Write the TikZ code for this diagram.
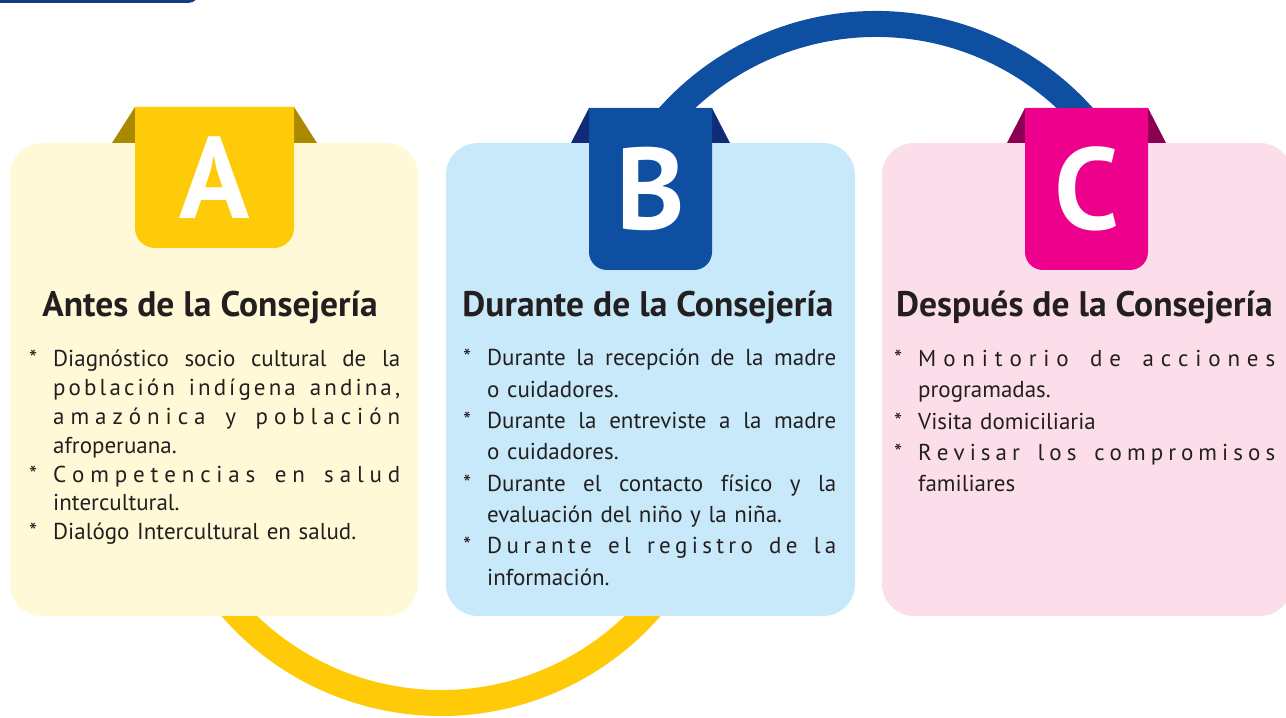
\documentclass[tikz,border=0pt]{standalone}
\usepackage{fontspec}
\setmainfont{PT Sans}
\usepackage{xcolor}

\definecolor{ink}{HTML}{231F20}
\definecolor{navy}{HTML}{163A86}
\definecolor{yellow_a}{HTML}{FFCB08}
\definecolor{yellow_fold}{HTML}{A98900}
\definecolor{cream_a}{HTML}{FFF9D7}
\definecolor{blue_b}{HTML}{0E4FA2}
\definecolor{blue_fold}{HTML}{102C78}
\definecolor{sky_b}{HTML}{C7E9F9}
\definecolor{pink_c}{HTML}{EC008C}
\definecolor{pink_fold}{HTML}{8B0050}
\definecolor{rose_c}{HTML}{FCDEEA}

\tikzstyle{card} =
  [ rectangle
  , rounded corners=32
  , minimum height=473
  , inner sep=0pt
  ]
\tikzstyle{ring} =
  [ line width=26
  ]
\tikzstyle{letter} =
  [ anchor=base
  , inner sep=0pt
  , text=white
  , font=\fontsize{116}{116}\selectfont\bfseries
  ]
\tikzstyle{heading} =
  [ anchor=base
  , inner sep=0pt
  , text=ink
  , font=\fontsize{35.5}{35.5}\selectfont\bfseries
  ]
\tikzstyle{list_text} =
  [ anchor=base west
  , inner sep=0pt
  , text=ink
  ]

% lines of the lists
\makeatletter
\def\fullline#1{\leavevmode\hbox to \linewidth{\spaceskip=.2em plus 1fil\relax #1}}
\def\spreadline#1{\leavevmode\hbox to \linewidth{\spread@#1\spread@end\unskip}}
\def\spread@end{\spread@end}
\def\spread@{\futurelet\spread@next\spread@check}
\def\spread@check{%
  \ifx\spread@next\spread@end
    \let\spread@do\@gobble
  \else\ifx\spread@next\@sptoken
    \let\spread@do\spread@space
  \else
    \let\spread@do\spread@char
  \fi\fi
  \spread@do}
\def\spread@char#1{#1\hfil\spread@}
\def\@tempa#1{\def\spread@space#1{\ \hfil\spread@}}
\@tempa{ }
\makeatother
\def\itemstar{\leavevmode\llap{*\hskip 16pt}}

\begin{document}
\begin{tikzpicture}[x=1pt,y=1pt]
    \useasboundingbox (0,0) rectangle (1286,718);
    \fill[navy, rounded corners=12] (-20,715) rectangle (200,760);

    % rings behind the cards
    \coordinate (ring_ab) at (441,293);
    \coordinate (ring_bc) at (876,416);
    \draw[ring, yellow_a] (ring_ab) ++(210:278) arc (210:330:278);
    \draw[ring, blue_b]   (ring_bc) ++(150:278) arc (150:30:278);

    % cards
    \node[card, fill=cream_a, minimum width=408] (card_a) at (214,338.5) {};
    \node[card, fill=sky_b,   minimum width=409] (card_b) at (650.5,338.5) {};
    \node[card, fill=rose_c,  minimum width=410] (card_c) at (1087,338.5) {};

    % tabs
    \fill[yellow_fold] (112,575) -- (135,611) -- (135,575) -- cycle;
    \fill[yellow_fold] (294,611) -- (317,575) -- (294,575) -- cycle;
    \fill[yellow_a] (135,611) [rounded corners=20] -- (135,470) -- (294,470) [sharp corners] -- (294,611) -- cycle;
    \node[letter] (letter_a) at (214.5,499) {A};

    \fill[blue_fold] (571,575) -- (589,610) -- (589,575) -- cycle;
    \fill[blue_fold] (712,610) -- (730,575) -- (712,575) -- cycle;
    \fill[blue_b] (589,610) [rounded corners=18] -- (589,448) -- (712,448) [sharp corners] -- (712,610) -- cycle;
    \node[letter] (letter_b) at (650.5,488) {B};

    \fill[pink_fold] (1007,575) -- (1025,610) -- (1025,575) -- cycle;
    \fill[pink_fold] (1148,610) -- (1166,575) -- (1148,575) -- cycle;
    \fill[pink_c] (1025,610) [rounded corners=18] -- (1025,448) -- (1148,448) [sharp corners] -- (1148,610) -- cycle;
    \node[letter] (letter_c) at (1086.5,488) {C};

    % headings
    \node[heading] (head_a) at (210,401)  {Antes de la Consejería};
    \node[heading] (head_b) at (648,401)  {Durante de la Consejería};
    \node[heading] (head_c) at (1084.5,401) {Después de la Consejería};

    % lists
    \node[list_text, text width=347, font=\fontsize{23}{28.8}\selectfont] (list_a) at (53,351) {%
      \itemstar\fullline{Diagnóstico socio cultural de la}\\
      \spreadline{población indígena andina,}\\
      \spreadline{amazónica y población}\\
      afroperuana.\\
      \itemstar\spreadline{Competencias en salud}\\
      intercultural.\\
      \itemstar Dialógo Intercultural en salud.};

    \node[list_text, text width=349, font=\fontsize{23}{31.3}\selectfont] (list_b) at (487,352) {%
      \itemstar\fullline{Durante la recepción de la madre}\\
      o cuidadores.\\
      \itemstar\fullline{Durante la entreviste a la madre}\\
      o cuidadores.\\
      \itemstar\fullline{Durante el contacto físico y la}\\
      evaluación del niño y la niña.\\
      \itemstar\spreadline{Durante el registro de la}\\
      información.};

    \node[list_text, text width=357, font=\fontsize{23}{31.3}\selectfont] (list_c) at (918,351.5) {%
      \itemstar\spreadline{Monitorio de acciones}\\
      programadas.\\
      \itemstar Visita domiciliaria\\
      \itemstar\spreadline{Revisar los compromisos}\\
      familiares};
\end{tikzpicture}
\end{document}
